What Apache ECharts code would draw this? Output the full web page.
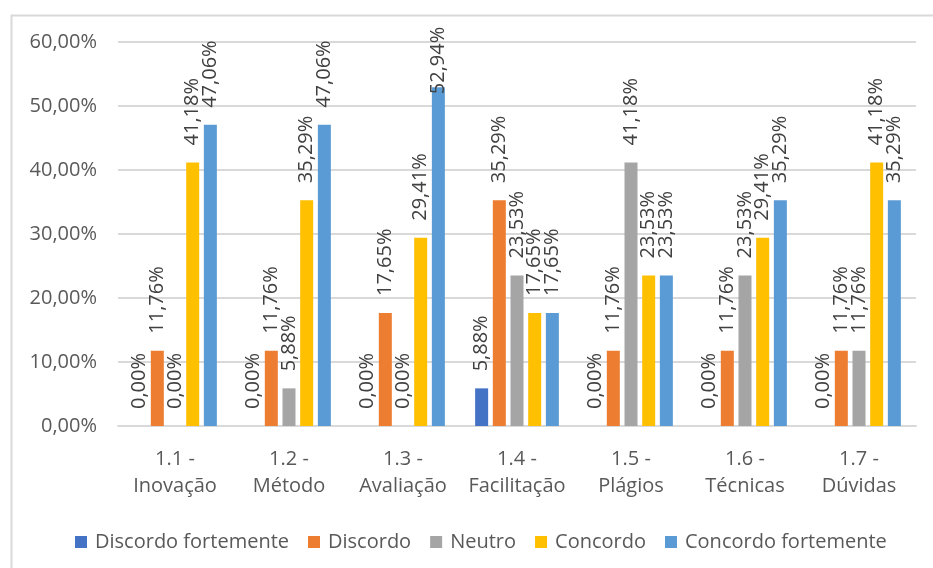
<!DOCTYPE html>
<html>
<head>
<meta charset="utf-8">
<script src="https://cdn.jsdelivr.net/npm/echarts@6/dist/echarts.min.js"></script>
<style>
  html, body { margin: 0; padding: 0; background: #ffffff; }
  #chart { width: 933px; height: 568px; }
</style>
</head>
<body>
<div id="chart"></div>
<script>
// Categories (two-line axis labels)
const categories = [
  '1.1 -\nInovação',
  '1.2 -\nMétodo',
  '1.3 -\nAvaliação',
  '1.4 -\nFacilitação',
  '1.5 -\nPlágios',
  '1.6 -\nTécnicas',
  '1.7 -\nDúvidas'
];

// Percent of answers per category
const discordoFortemente = [0, 0, 0, 5.88, 0, 0, 0];
const discordo           = [11.76, 11.76, 17.65, 35.29, 11.76, 11.76, 11.76];
const neutro             = [0, 5.88, 0, 23.53, 41.18, 23.53, 11.76];
const concordo           = [41.18, 35.29, 29.41, 17.65, 23.53, 29.41, 41.18];
const concordoFortemente = [47.06, 47.06, 52.94, 17.65, 23.53, 35.29, 35.29];

const seriesNames = ['Discordo fortemente', 'Discordo', 'Neutro', 'Concordo', 'Concordo fortemente'];
const seriesValues = [discordoFortemente, discordo, neutro, concordo, concordoFortemente];
const seriesColors = ['#4472C4', '#ED7D31', '#A5A5A5', '#FFC000', '#5B9BD5'];

// Value axis ticks
const yMin = 0, yMax = 60, yStep = 10;

const FONT = '"Open Sans", "Noto Sans", sans-serif';
const TEXT = '#595959';

const fmt = v => v.toFixed(2).replace('.', ',') + '%';

const chart = echarts.init(document.getElementById('chart'), null, { renderer: 'canvas' });

const series = seriesNames.map((name, i) => ({
  name,
  type: 'bar',
  barWidth: 13,
  barGap: '36%',
  itemStyle: { color: seriesColors[i] },
  data: seriesValues[i].map(v => {
    const item = { value: v };
    // the tallest labels are pulled down so they stay inside the frame
    if (v > 50) item.label = { distance: -8 };
    return item;
  }),
  label: {
    show: true,
    position: 'top',
    rotate: 90,
    align: 'left',
    verticalAlign: 'middle',
    distance: 16,
    offset: [1, 0],
    color: '#404040',
    fontFamily: FONT,
    fontSize: 20,
    formatter: p => fmt(p.value)
  }
}));

chart.setOption({
  backgroundColor: '#ffffff',
  animation: false,
  textStyle: { fontFamily: FONT },
  graphic: [{
    type: 'rect',
    left: 9, top: 13,
    shape: { width: 1000, height: 1000 },
    style: { fill: 'none', stroke: '#D9D9D9', lineWidth: 2 },
    silent: true
  }],
  grid: { left: 118, right: 17, top: 42, bottom: 142, containLabel: false },
  legend: {
    data: seriesNames,
    left: 70,
    top: 527,
    itemWidth: 12,
    itemHeight: 12,
    itemGap: 19,
    icon: 'rect',
    textStyle: { color: TEXT, fontSize: 20, fontFamily: FONT, padding: [0, 0, 0, 3] }
  },
  xAxis: {
    type: 'category',
    data: categories,
    axisLine: { show: true, lineStyle: { color: '#D9D9D9', width: 2 } },
    axisTick: { show: false },
    axisLabel: {
      color: TEXT,
      fontSize: 20,
      fontFamily: FONT,
      lineHeight: 27,
      margin: 20,
      interval: 0
    }
  },
  yAxis: {
    type: 'value',
    min: yMin,
    max: yMax,
    interval: yStep,
    axisLine: { show: false },
    axisTick: { show: false },
    splitLine: { lineStyle: { color: '#D9D9D9', width: 2 } },
    axisLabel: {
      color: TEXT,
      fontSize: 20,
      fontFamily: FONT,
      margin: 21,
      formatter: v => fmt(v)
    }
  },
  series
});
</script>
</body>
</html>
